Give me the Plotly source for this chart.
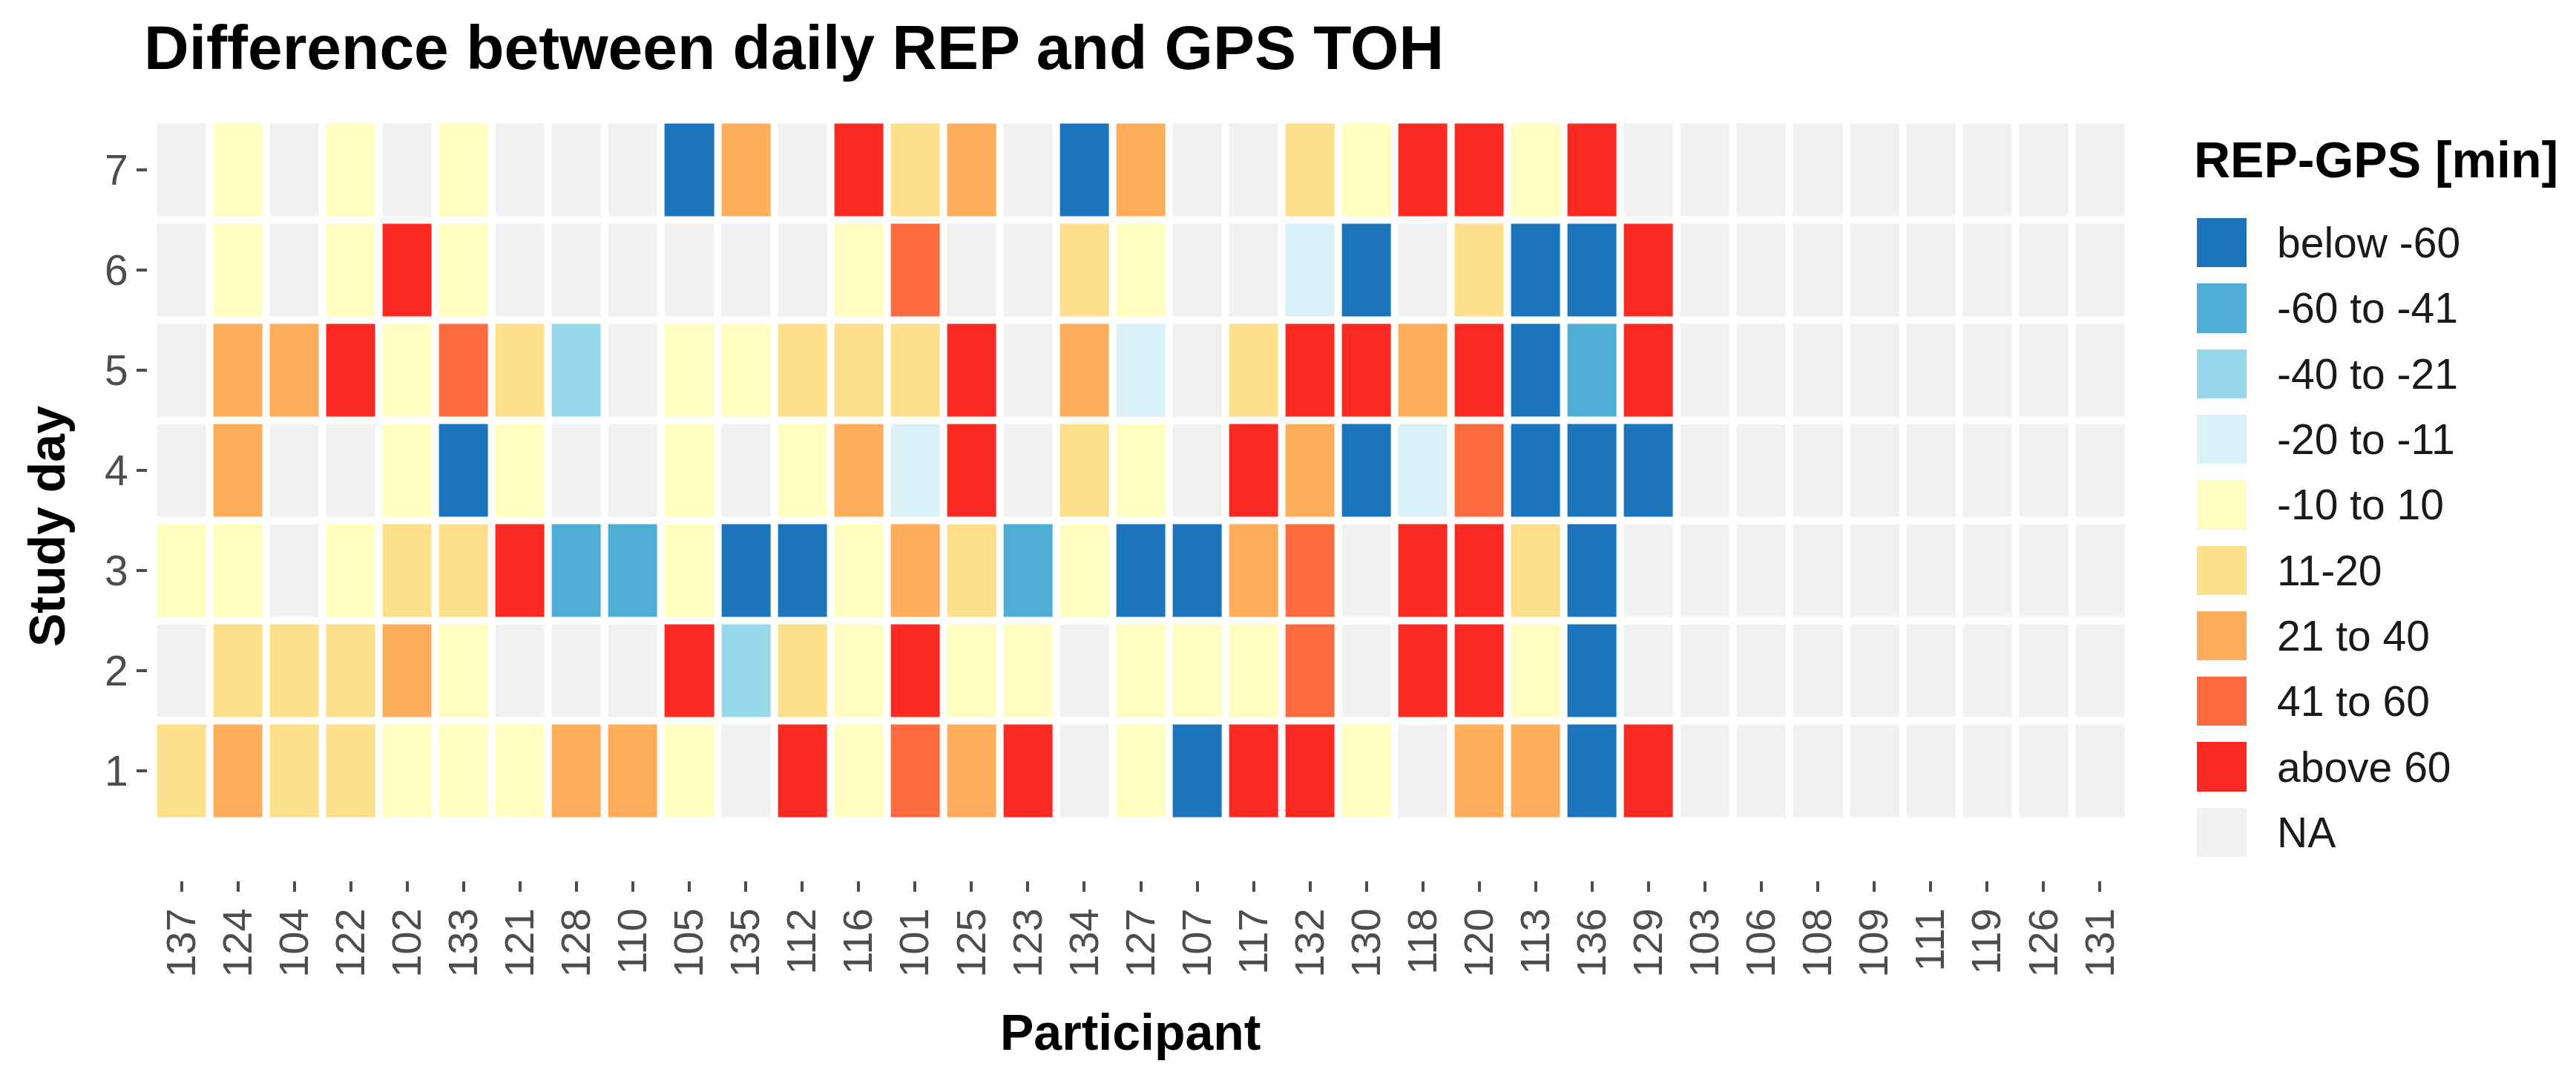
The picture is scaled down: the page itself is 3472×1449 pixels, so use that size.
import plotly.graph_objects as go

# participants in display order (x axis)
participants = ["137", "124", "104", "122", "102", "133", "121", "128", "110", "105",
                "135", "112", "116", "101", "125", "123", "134", "127", "107", "117",
                "132", "130", "118", "120", "113", "136", "129", "103", "106", "108",
                "109", "111", "119", "126", "131"]

# difference classes (legend order) and their colours
bins = ["below -60", "-60 to -41", "-40 to -21", "-20 to -11", "-10 to 10",
        "11-20", "21 to 40", "41 to 60", "above 60", "NA"]
bin_colors = ["#1C75BC", "#4EAED5", "#97D9EA", "#D9F1F7", "#FFFDBF",
              "#FEDF8B", "#FEAD5B", "#FE6B3F", "#FB2B23", "#F0F1F3"]

N = None
# class index per participant for each study day (None = NA)
day1 = [5, 6, 5, 5, 4, 4, 4, 6, 6, 4, N, 8, 4, 7, 6, 8, N, 4, 0, 8, 8, 4, N, 6, 6, 0, 8, N, N, N, N, N, N, N, N]
day2 = [N, 5, 5, 5, 6, 4, N, N, N, 8, 2, 5, 4, 8, 4, 4, N, 4, 4, 4, 7, N, 8, 8, 4, 0, N, N, N, N, N, N, N, N, N]
day3 = [4, 4, N, 4, 5, 5, 8, 1, 1, 4, 0, 0, 4, 6, 5, 1, 4, 0, 0, 6, 7, N, 8, 8, 5, 0, N, N, N, N, N, N, N, N, N]
day4 = [N, 6, N, N, 4, 0, 4, N, N, 4, N, 4, 6, 3, 8, N, 5, 4, N, 8, 6, 0, 3, 7, 0, 0, 0, N, N, N, N, N, N, N, N]
day5 = [N, 6, 6, 8, 4, 7, 5, 2, N, 4, 4, 5, 5, 5, 8, N, 6, 3, N, 5, 8, 8, 6, 8, 0, 1, 8, N, N, N, N, N, N, N, N]
day6 = [N, 4, N, 4, 8, 4, N, N, N, N, N, N, 4, 7, N, N, 5, 4, N, N, 3, 0, N, 5, 0, 0, 8, N, N, N, N, N, N, N, N]
day7 = [N, 4, N, 4, N, 4, N, N, N, 0, 6, N, 8, 5, 6, N, 0, 6, N, N, 5, 4, 8, 8, 4, 8, N, N, N, N, N, N, N, N, N]

days = [1, 2, 3, 4, 5, 6, 7]
rows = [day1, day2, day3, day4, day5, day6, day7]

na_code = len(bins) - 1
z = [[na_code if v is None else v for v in row] for row in rows]

# stepwise colour scale, one flat band per class
nb = len(bins)
colorscale = []
for i, c in enumerate(bin_colors):
    colorscale.append([i / nb, c])
    colorscale.append([(i + 1) / nb, c])

FONT = "Liberation Sans, Arial, Helvetica, sans-serif"
GREY = "#4D4D4D"

fig = go.Figure()

fig.add_trace(go.Heatmap(
    x=participants, y=days, z=z,
    colorscale=colorscale, zmin=-0.5, zmax=nb - 0.5,
    showscale=False, xgap=10, ygap=10, hoverinfo="skip",
    xaxis="x", yaxis="y",
))

# legend drawn as a one-column heatmap so the keys are big squares
fig.add_trace(go.Heatmap(
    x=[0], y=list(range(nb)), z=[[i] for i in range(nb)],
    colorscale=colorscale, zmin=-0.5, zmax=nb - 0.5,
    showscale=False, ygap=22, hoverinfo="skip",
    xaxis="x2", yaxis="y2",
))

W, H = 3472, 1449
ml, mr, mt, mb = 191, 452, 140, 270
pw = W - ml - mr
ph = H - mt - mb

fig.update_layout(
    width=W, height=H,
    margin=dict(l=ml, r=mr, t=mt, b=mb),
    paper_bgcolor="white", plot_bgcolor="white",
    font=dict(family=FONT, color=GREY),
    showlegend=False,
    title=dict(text="<b>Difference between daily REP and GPS TOH</b>",
               font=dict(size=84, color="black", family=FONT),
               x=186 / W, xanchor="left", xref="container",
               y=1 - 56 / H, yanchor="middle", yref="container"),
    xaxis=dict(domain=[0, (2868 - ml) / pw], type="category",
               range=[-0.6, len(participants) - 0.4],
               tickmode="array", tickvals=participants, ticktext=participants,
               tickangle=-90, tickfont=dict(size=56, color=GREY),
               ticks="outside", ticklen=14, tickwidth=4, tickcolor=GREY,
               ticklabelstandoff=0,
               showgrid=False, zeroline=False, showline=False),
    yaxis=dict(domain=[0, 1], range=[-0.1, 7.6],
               tickmode="array", tickvals=days,
               tickfont=dict(size=57, color=GREY),
               ticks="outside", ticklen=14, tickwidth=4, tickcolor=GREY,
               ticklabelstandoff=0,
               showgrid=False, zeroline=False, showline=False),
    xaxis2=dict(domain=[(2953 - ml) / pw, 1], anchor="y2", range=[-0.5, 0.5],
                visible=False),
    yaxis2=dict(domain=[(1179 - 1158) / ph, (1179 - 275) / ph], anchor="x2",
                range=[nb - 0.5, -0.5], side="right",
                tickmode="array", tickvals=list(range(nb)), ticktext=bins,
                tickfont=dict(size=57, color="#1A1A1A"), ticks="",
                ticklabelstandoff=40,
                showgrid=False, zeroline=False, showline=False),
    annotations=[
        dict(text="<b>Participant</b>", x=(1515 - ml) / pw, y=(1179 - 1383) / ph,
             xref="paper", yref="paper", xanchor="center", yanchor="middle",
             showarrow=False, font=dict(size=68, color="black", family=FONT)),
        dict(text="<b>Study day</b>", x=(55 - ml) / pw, y=(1179 - 702) / ph,
             xref="paper", yref="paper", xanchor="center", yanchor="middle",
             textangle=-90, showarrow=False,
             font=dict(size=68, color="black", family=FONT)),
        dict(text="<b>REP-GPS [min]</b>", x=(2947 - ml) / pw, y=(1179 - 207) / ph,
             xref="paper", yref="paper", xanchor="left", yanchor="middle",
             showarrow=False, font=dict(size=68, color="black", family=FONT)),
    ],
)

fig.write_html("out.html")
